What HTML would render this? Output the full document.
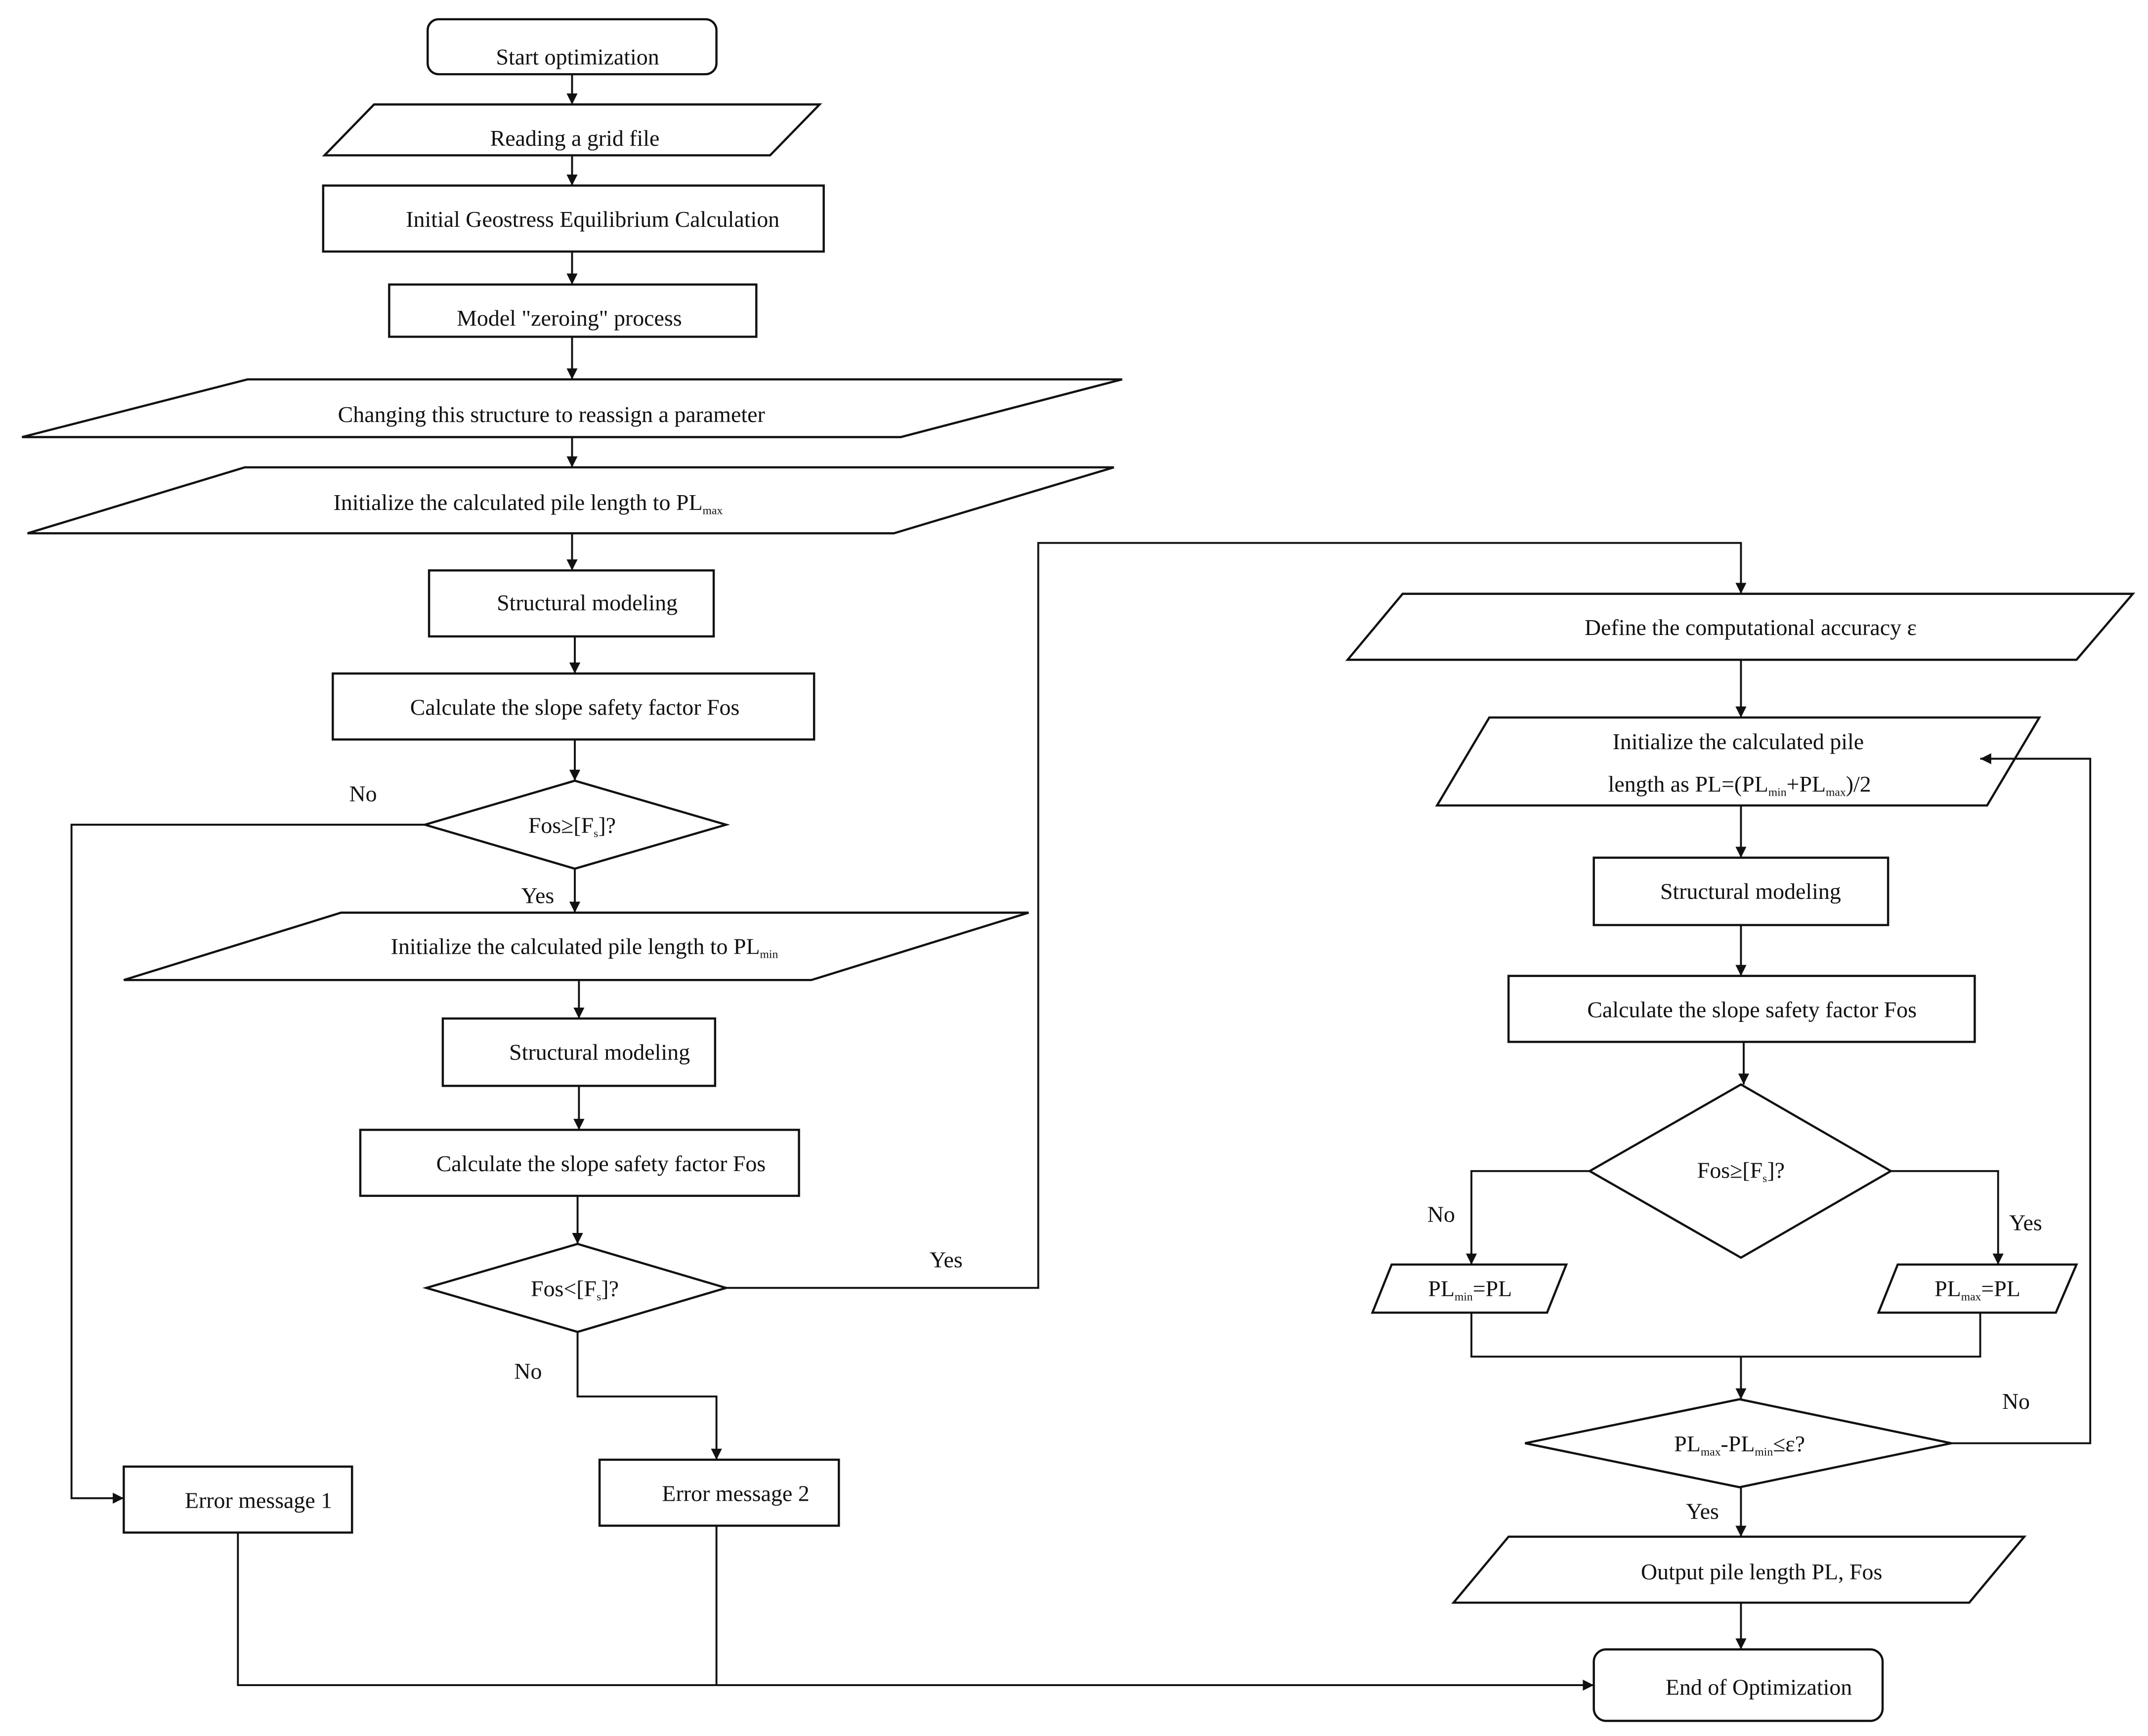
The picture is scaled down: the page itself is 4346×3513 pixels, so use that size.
<!DOCTYPE html>
<html><head><meta charset="utf-8"><style>
html,body{margin:0;padding:0;background:#fff;}
svg{display:block;}
text{font-family:"Liberation Serif",serif;font-size:16.5px;fill:#111;text-anchor:middle;}
.s{fill:#fff;stroke:#111;stroke-width:1.6;}
.l{fill:none;stroke:#111;stroke-width:1.4;}
.sub{font-size:8.5px;}
</style></head><body>
<svg width="4346" height="3513" viewBox="0 0 1562 1263" preserveAspectRatio="none" xmlns="http://www.w3.org/2000/svg">
<defs><marker id="a" viewBox="0 0 10 10" refX="10" refY="5" markerWidth="8" markerHeight="8" markerUnits="userSpaceOnUse" orient="auto"><path d="M0,0L10,5L0,10z" fill="#111"/></marker></defs>
<rect width="1562" height="1263" fill="#fff"/>
<rect class="s" x="311" y="14" width="210" height="40" rx="8"/>
<text x="420" y="47">Start optimization</text>
<polygon class="s" points="272,76 596,76 560,113 236,113"/>
<text x="418" y="106">Reading a grid file</text>
<rect class="s" x="235" y="135" width="364" height="48"/>
<text x="431" y="165">Initial Geostress Equilibrium Calculation</text>
<rect class="s" x="283" y="207" width="267" height="38"/>
<text x="414" y="237">Model "zeroing" process</text>
<polygon class="s" points="180,276 816,276 655,318 16,318"/>
<text x="401" y="307">Changing this structure to reassign a parameter</text>
<polygon class="s" points="178,340 810,340 650,388 20,388"/>
<text x="384" y="371">Initialize the calculated pile length to PL<tspan class="sub" dy="3">max</tspan></text>
<rect class="s" x="312" y="415" width="207" height="48"/>
<text x="427" y="444">Structural modeling</text>
<rect class="s" x="242" y="490" width="350" height="48"/>
<text x="418" y="520">Calculate the slope safety factor Fos</text>
<polygon class="s" points="309,600 418,568 528,600 418,632"/>
<text x="416" y="606">Fos≥[F<tspan class="sub" dy="3">s</tspan><tspan dy="-3">]?</tspan></text>
<polygon class="s" points="248,664 748,664 590,713 90,713"/>
<text x="425" y="694">Initialize the calculated pile length to PL<tspan class="sub" dy="3">min</tspan></text>
<rect class="s" x="322" y="741" width="198" height="49"/>
<text x="436" y="771">Structural modeling</text>
<rect class="s" x="262" y="822" width="319" height="48"/>
<text x="437" y="852">Calculate the slope safety factor Fos</text>
<polygon class="s" points="310,937 420,905 528,937 420,969"/>
<text x="418" y="943">Fos&lt;[F<tspan class="sub" dy="3">s</tspan><tspan dy="-3">]?</tspan></text>
<rect class="s" x="90" y="1067" width="166" height="48"/>
<text x="188" y="1097">Error message 1</text>
<rect class="s" x="436" y="1062" width="174" height="48"/>
<text x="535" y="1092">Error message 2</text>
<rect class="s" x="1159" y="1200" width="210" height="52" rx="9"/>
<text x="1279" y="1233">End of Optimization</text>
<polygon class="s" points="1020,432 1551,432 1510,480 980,480"/>
<text x="1273" y="462">Define the computational accuracy ε</text>
<polygon class="s" points="1083,522 1483,522 1445,586 1045,586"/>
<text x="1264" y="545">Initialize the calculated pile</text>
<text x="1265" y="576">length as PL=(PL<tspan class="sub" dy="3">min</tspan><tspan dy="-3">+PL</tspan><tspan class="sub" dy="3">max</tspan><tspan dy="-3">)/2</tspan></text>
<rect class="s" x="1159" y="624" width="214" height="49"/>
<text x="1273" y="654">Structural modeling</text>
<rect class="s" x="1097" y="710" width="339" height="48"/>
<text x="1274" y="740">Calculate the slope safety factor Fos</text>
<polygon class="s" points="1156,852 1266,789 1375,852 1266,915"/>
<text x="1266" y="857">Fos≥[F<tspan class="sub" dy="3">s</tspan><tspan dy="-3">]?</tspan></text>
<polygon class="s" points="1012,920 1139,920 1125,955 998,955"/>
<text x="1069" y="943">PL<tspan class="sub" dy="3">min</tspan><tspan dy="-3">=PL</tspan></text>
<polygon class="s" points="1380,920 1510,920 1495,955 1366,955"/>
<text x="1438" y="943">PL<tspan class="sub" dy="3">max</tspan><tspan dy="-3">=PL</tspan></text>
<polygon class="s" points="1109,1050 1265,1018 1419,1050 1265,1082"/>
<text x="1265" y="1056">PL<tspan class="sub" dy="3">max</tspan><tspan dy="-3">-PL</tspan><tspan class="sub" dy="3">min</tspan><tspan dy="-3">≤ε?</tspan></text>
<polygon class="s" points="1097,1118 1472,1118 1432,1166 1057,1166"/>
<text x="1281" y="1149">Output pile length PL, Fos</text>
<line class="l" x1="416" y1="54" x2="416" y2="76" marker-end="url(#a)"/>
<line class="l" x1="416" y1="113" x2="416" y2="135" marker-end="url(#a)"/>
<line class="l" x1="416" y1="183" x2="416" y2="207" marker-end="url(#a)"/>
<line class="l" x1="416" y1="245" x2="416" y2="276" marker-end="url(#a)"/>
<line class="l" x1="416" y1="318" x2="416" y2="340" marker-end="url(#a)"/>
<line class="l" x1="416" y1="388" x2="416" y2="415" marker-end="url(#a)"/>
<line class="l" x1="418" y1="463" x2="418" y2="490" marker-end="url(#a)"/>
<line class="l" x1="418" y1="538" x2="418" y2="568" marker-end="url(#a)"/>
<polyline class="l" points="309,600 52,600 52,1090 90,1090" marker-end="url(#a)"/>
<text x="264" y="583">No</text>
<line class="l" x1="418" y1="632" x2="418" y2="664" marker-end="url(#a)"/>
<text x="391" y="657">Yes</text>
<line class="l" x1="421" y1="713" x2="421" y2="741" marker-end="url(#a)"/>
<line class="l" x1="421" y1="790" x2="421" y2="822" marker-end="url(#a)"/>
<line class="l" x1="420" y1="870" x2="420" y2="905" marker-end="url(#a)"/>
<polyline class="l" points="528,937 755,937 755,395 1266,395 1266,432" marker-end="url(#a)"/>
<text x="688" y="922">Yes</text>
<polyline class="l" points="420,969 420,1016 521,1016 521,1062" marker-end="url(#a)"/>
<text x="384" y="1003">No</text>
<polyline class="l" points="173,1115 173,1226 1159,1226" marker-end="url(#a)"/>
<line class="l" x1="521" y1="1110" x2="521" y2="1226"/>
<line class="l" x1="1266" y1="480" x2="1266" y2="522" marker-end="url(#a)"/>
<line class="l" x1="1266" y1="586" x2="1266" y2="624" marker-end="url(#a)"/>
<line class="l" x1="1266" y1="673" x2="1266" y2="710" marker-end="url(#a)"/>
<line class="l" x1="1268" y1="758" x2="1268" y2="789" marker-end="url(#a)"/>
<polyline class="l" points="1156,852 1070,852 1070,920" marker-end="url(#a)"/>
<text x="1048" y="889">No</text>
<polyline class="l" points="1375,852 1453,852 1453,920" marker-end="url(#a)"/>
<text x="1473" y="895">Yes</text>
<polyline class="l" points="1070,955 1070,987 1440,987 1440,955"/>
<line class="l" x1="1266" y1="987" x2="1266" y2="1018" marker-end="url(#a)"/>
<polyline class="l" points="1419,1050 1520,1050 1520,552 1440,552" marker-end="url(#a)"/>
<text x="1466" y="1025">No</text>
<line class="l" x1="1266" y1="1082" x2="1266" y2="1118" marker-end="url(#a)"/>
<text x="1238" y="1105">Yes</text>
<line class="l" x1="1266" y1="1166" x2="1266" y2="1200" marker-end="url(#a)"/>
</svg>
</body></html>
